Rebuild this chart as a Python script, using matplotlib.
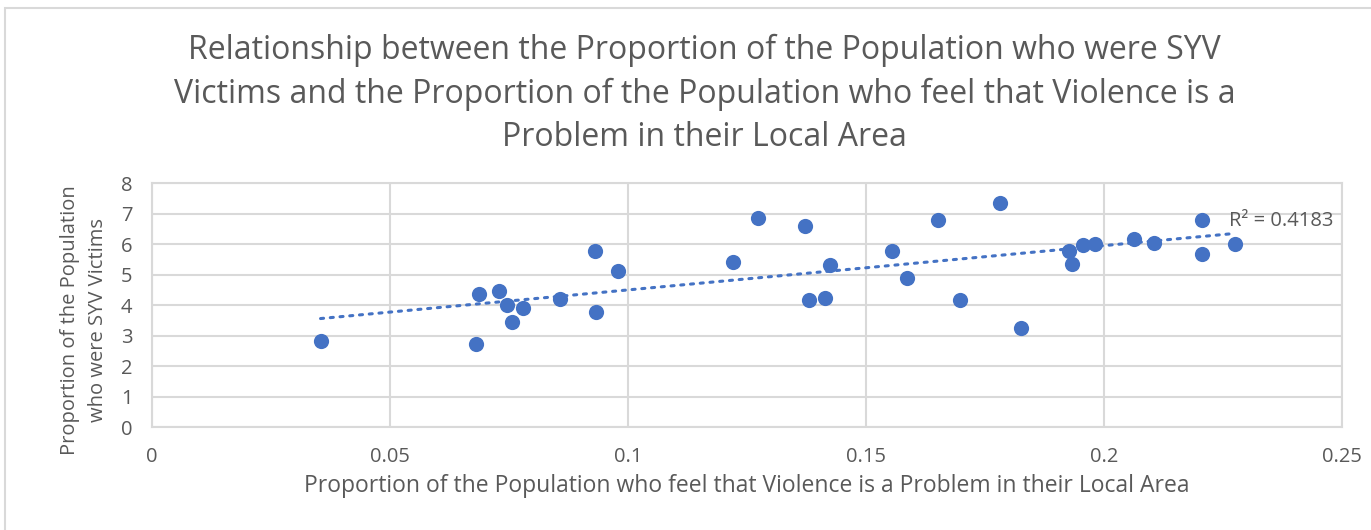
import matplotlib
matplotlib.use("Agg")
import matplotlib.pyplot as plt
import numpy as np
from matplotlib.patches import Rectangle

plt.rcParams['font.family'] = ['Open Sans', 'DejaVu Sans']

# Proportion who feel violence is a problem in local area
x_vals = [0.0354, 0.0680, 0.0687, 0.0730, 0.0746, 0.0780, 0.0756, 0.0857,
          0.0930, 0.0933, 0.0978, 0.1220, 0.1273, 0.1371, 0.1381, 0.1413,
          0.1424, 0.1555, 0.1587, 0.1652, 0.1782, 0.1697, 0.1826, 0.1927,
          0.1932, 0.1956, 0.1982, 0.2064, 0.2106, 0.2206, 0.2206, 0.2275]
# Proportion who were SYV victims
y_vals = [2.83, 2.72, 4.37, 4.48, 4.02, 3.90, 3.44, 4.21,
          5.79, 3.79, 5.13, 5.41, 6.86, 6.60, 4.17, 4.25,
          5.32, 5.78, 4.90, 6.79, 7.36, 4.17, 3.25, 5.79,
          5.36, 5.98, 6.02, 6.17, 6.05, 6.79, 5.67, 6.01]

x_ticks = [0, 0.05, 0.1, 0.15, 0.2, 0.25]
x_tick_labels = ["0", "0.05", "0.1", "0.15", "0.2", "0.25"]
y_ticks = [0, 1, 2, 3, 4, 5, 6, 7, 8]
r2_label = "R² = 0.4183"

title = ("Relationship between the Proportion of the Population who were SYV\n"
         "Victims and the Proportion of the Population who feel that Violence is a\n"
         "Problem in their Local Area")
x_label = "Proportion of the Population who feel that Violence is a Problem in their Local Area"
y_label = "Proportion of the Population\nwho were SYV Victims"

blue = "#4472C4"
grid_c = "#d9d9d9"
text_c = "#595959"

fig = plt.figure(figsize=(13.71, 5.30), dpi=100)
ax = fig.add_axes([0.1109, 0.1938, 0.8679, 0.4604])

x = np.array(x_vals)
y = np.array(y_vals)
ax.scatter(x, y, s=120, color=blue, zorder=3, linewidths=0)

coef = np.polyfit(x, y, 1)
xt = np.array([x.min(), x.max()])
ax.plot(xt, np.polyval(coef, xt), linestyle=(0, (1, 2.2)), color=blue,
        linewidth=2.2, dash_capstyle='round', zorder=2)

ax.set_xlim(0, 0.25)
ax.set_ylim(0, 8)
ax.set_xticks(x_ticks)
ax.set_xticklabels(x_tick_labels)
ax.set_yticks(y_ticks)
ax.grid(True, color=grid_c, linewidth=1.5, zorder=0)
ax.set_axisbelow(True)
for s in ax.spines.values():
    s.set_color(grid_c)
    s.set_linewidth(1.5)
ax.tick_params(length=0, labelsize=14.5, colors=text_c)
ax.tick_params(axis='x', pad=14)
ax.tick_params(axis='y', pad=14)

ax.text(0.2262, 6.75, r2_label, fontsize=14.5, color=text_c, ha='left', va='center')

ax.set_xlabel(x_label, fontsize=16.5, color=text_c, labelpad=5)
ax.set_ylabel(y_label, fontsize=14.5, color=text_c, linespacing=1.55)
ax.yaxis.set_label_coords(-0.037, 0.44)

fig.text(0.514, 0.937, title, fontsize=23, color=text_c, ha='center', va='top',
         linespacing=1.43)

fig.patches.append(Rectangle((5 / 1371, -0.01), 1.05, 0.997 - 5 / 530 + 0.01 - 0.003,
                             transform=fig.transFigure, fill=False,
                             edgecolor=grid_c, linewidth=1.5))

fig.savefig("out.png", dpi=100, facecolor="white")
